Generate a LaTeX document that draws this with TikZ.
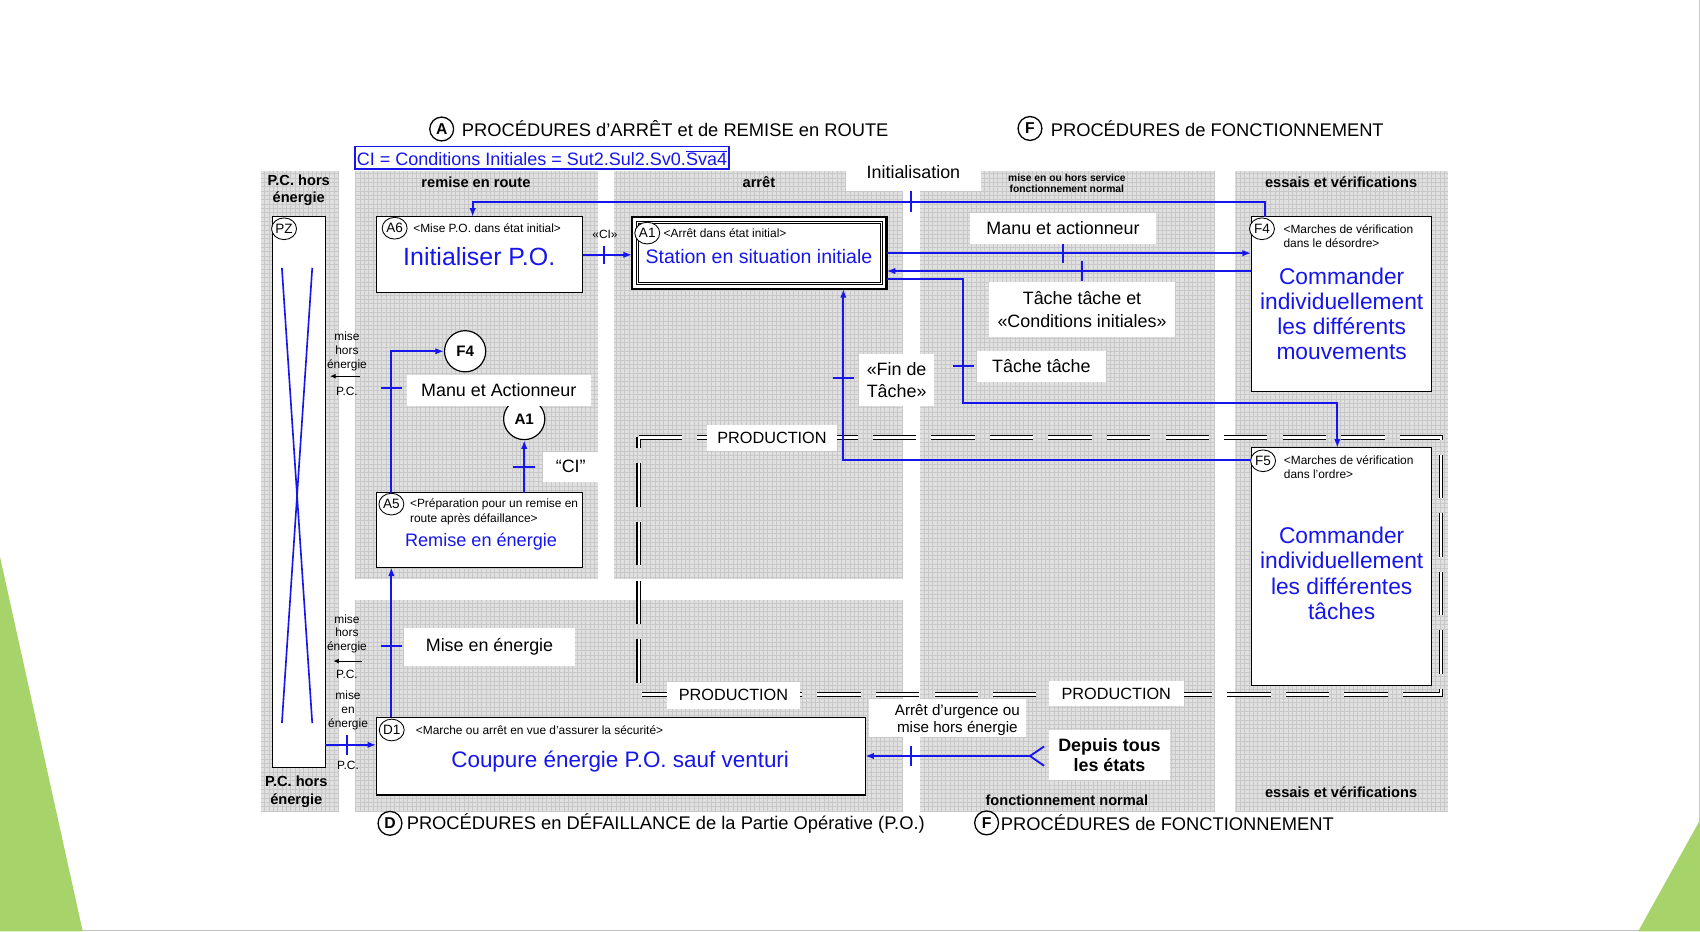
\documentclass[tikz,border=0pt]{standalone}
\usepackage{fontspec}
\setmainfont{Liberation Sans}
\usetikzlibrary{arrows.meta,shapes.geometric}
\definecolor{myblue}{RGB}{22,22,235}
\definecolor{gridbg}{RGB}{224,224,224}
\definecolor{gridln}{RGB}{200,200,200}
\definecolor{slidegreen}{RGB}{166,212,106}
\newcommand\fsz[2]{\fontsize{#1}{#2}\selectfont}
\newcommand\gregion[4]{\fill[gridbg] (#1,#2) rectangle (#3,#4); \draw[gridln, line width=0.4pt, step=4pt] (#1,#4) grid (#3,#2);}
\begin{document}
\begin{tikzpicture}[x=1pt,y=-1pt,
  box/.style={draw=black, line width=1.2pt, fill=white, inner sep=0pt, outer sep=0pt},
  sm/.style={font=\fsz{11}{13.4}, inner sep=0pt},
  smc/.style={ellipse, draw=black, line width=0.8pt, fill=white, inner sep=0pt, minimum width=23pt, minimum height=20pt, font=\fsz{12.5}{14}},
  bcirc/.style={circle, draw=black, line width=1.1pt, fill=white, inner sep=0pt, minimum size=38pt, font=\bfseries\fsz{14}{16}},
  tcirc/.style={circle, draw=black, line width=1.2pt, inner sep=0pt, minimum size=22pt, font=\bfseries\fsz{14.5}{16}},
  ttl/.style={font=\fsz{16.9}{20}, inner sep=0pt, anchor=west},
  hdr/.style={font=\bfseries\fsz{13.5}{16}, align=center, inner sep=0pt},
  hdrs/.style={font=\bfseries\fsz{9.5}{10.5}, align=center, inner sep=0pt},
  lbl/.style={fill=white, inner sep=0pt, font=\fsz{16.5}{20}, align=center},
  prod/.style={font=\fsz{15}{18}},
  bt/.style={text=myblue, align=center, inner sep=0pt},
  conn/.style={draw=myblue, line width=1.7pt},
  arr/.style={conn, -{Latex[length=8pt,width=6pt]}},
  tk/.style={draw=myblue, line width=1.7pt},
  karr/.style={draw=black, line width=0.9pt, -{Latex[length=5pt,width=4.5pt]}},
  proddash/.style={draw=black, line width=1.1pt, double=white, double distance=2pt, dash pattern=on 40pt off 14pt}
]
\useasboundingbox (0,0) rectangle (1568,859);
\fill[white] (0,0) rectangle (1568,859);
% slide decoration
\draw[gray!50, line width=1.4pt] (0,858.3) -- (1568,858.3);
\draw[gray!40, line width=1pt] (1567.5,0) -- (1567.5,859);
\fill[slidegreen] (0,513.5) -- (76.3,859) -- (0,859) -- cycle;
\fill[slidegreen] (1568,756.4) -- (1568,859) -- (1511,859) -- cycle;

% gray regions
\gregion{240.5}{157.4}{312.7}{749}
\gregion{327.5}{157.4}{551.7}{534}
\gregion{566}{157.4}{833}{534}
\gregion{327.5}{553.4}{833}{749}
\gregion{849}{157.4}{1121}{749}
\gregion{1139}{157.4}{1335.6}{749}

% titles
\node[tcirc] (cA) at (407.4,119) {A};
\node[ttl] (tA) at (425.8,119) {PROCÉDURES d’ARRÊT et de REMISE en ROUTE};
\node[tcirc] (cF) at (950,118.5) {F};
\node[ttl] (tF) at (969,118.5) {PROCÉDURES de FONCTIONNEMENT};
\node[tcirc] (cD) at (359.7,759.4) {D};
\node[ttl] (tD) at (375,759.4) {PROCÉDURES en DÉFAILLANCE de la Partie Opérative (P.O.)};
\node[tcirc] (cF2) at (910,759) {F};
\node[ttl] (tF2) at (923,759) {PROCÉDURES de FONCTIONNEMENT};
\node[draw=myblue, line width=1.1pt, text=myblue, font=\fsz{16.6}{20}, inner xsep=1.8pt, inner ysep=0pt, minimum height=20.6pt, anchor=west] (ci) at (326.8,145.6) {CI = Conditions Initiales = Sut2.Sul2.Sv0.$\overline{\mbox{Sva4}}$};

% headers
\node[hdr] (hPC) at (275.5,175.6) {P.C. hors\\énergie};
\node[hdr] (hPC2) at (273.3,730.2) {P.C. hors\\énergie};
\node[hdr] (hRR) at (439,168) {remise en route};
\node[hdr] (hAR) at (700,168) {arrêt};
\node[hdrs] (hMS) at (984,169) {mise en ou hors service\\fonctionnement normal};
\node[hdr] (hEV) at (1237,167.6) {essais et vérifications};
\node[hdr] (hEV2) at (1237,731) {essais et vérifications};
\node[hdr] (hFN) at (984,738) {fonctionnement normal};

% production zone
\draw[proddash] (589,403.5) -- (1329,403.5) -- (1329,640.5) -- (589,640.5) -- cycle;

% boxes
\node[box, minimum width=48.5pt, minimum height=507.7pt] (PZ) at (275.75,453.85) {};
\node[box, minimum width=190.5pt, minimum height=69.5pt] (A6) at (442.25,234.75) {};
\node[box, line width=2.3pt, minimum width=234.8pt, minimum height=66.6pt] (A1) at (700.4,233.3) {};
\draw[line width=0.6pt] ([shift={(4.2,4.2)}]A1.north west) rectangle ([shift={(-4.2,-4.2)}]A1.south east);
\draw[line width=0.6pt] ([shift={(6,6)}]A1.north west) rectangle ([shift={(-6,-6)}]A1.south east);
\node[box, minimum width=166.5pt, minimum height=161.3pt] (F4) at (1237.25,280.65) {};
\node[box, minimum width=166.5pt, minimum height=219pt] (F5) at (1237.25,522.5) {};
\node[box, minimum width=190.5pt, minimum height=68.9pt] (A5) at (442.25,488.85) {};
\node[box, minimum width=451pt, minimum height=71.7pt] (D1) at (572.5,697.45) {};

% PZ cross
\draw[conn, line width=1.5pt] (260,247) -- (288,667);
\draw[conn, line width=1.5pt] (288,247) -- (260,667);

% step circles
\node[smc] (cPZ) at (262,211) {PZ};
\node[smc] (cA6) at (364,210.5) {A6};
\node[smc] (cA1b) at (597,215) {A1};
\node[smc] (cF4b) at (1164,211) {F4};
\node[smc] (cF5b) at (1165,425) {F5};
\node[smc] (cA5) at (361,465) {A5};
\node[smc] (cD1) at (361.3,673.3) {D1};

% small texts in boxes
\node[sm, anchor=west] (sA6) at (381,210.5) {<Mise P.O. dans état initial>};
\node[sm, anchor=west] (sA1) at (612,215) {<Arrêt dans état initial>};
\node[sm, anchor=west, align=left] (sF4) at (1183.7,217.7) {<Marches de vérification\\dans le désordre>};
\node[sm, anchor=west, align=left] (sF5) at (1184,431) {<Marches de vérification\\dans l’ordre>};
\node[sm, anchor=west, align=left] (sA5) at (378,471.9) {<Préparation pour un remise en\\route après défaillance>};
\node[sm, anchor=west] (sD1) at (383.4,673.3) {<Marche ou arrêt en vue d’assurer la sécurité>};

% blue texts
\node[bt, font=\fsz{23}{27}] (tA6) at (442,237) {Initialiser P.O.};
\node[bt, font=\fsz{18}{21}] (tA1) at (700,237) {Station en situation initiale};
\node[bt, font=\fsz{21}{23.2}] (tF4) at (1237.5,289.7) {Commander\\individuellement\\les différents\\mouvements};
\node[bt, font=\fsz{21}{23.5}] (tF5) at (1237.5,528.7) {Commander\\individuellement\\les différentes\\tâches};
\node[bt, font=\fsz{16.7}{20}] (tA5) at (443.7,500) {Remise en énergie};
\node[bt, font=\fsz{20.7}{24}] (tD1) at (572,702) {Coupure énergie P.O. sauf venturi};

% standalone circles
\node[bcirc] (cF4) at (429,324) {F4};
\node[bcirc] (cA1) at (483.5,386.5) {A1};

% connectors
\coordinate (iniR) at (1167,186);
\coordinate (iniL) at (436,186);
\coordinate (tIni) at (840,186);
\draw[arr] (F4.north -| iniR) -- (iniR) -- (iniL) -- (A6.north -| iniL);
\draw[tk] ([yshift=9.5pt]tIni) -- ([yshift=-9.5pt]tIni);

\coordinate (tCI) at (557,235);
\draw[arr] (tCI -| A6.east) -- (tCI -| A1.west);
\draw[tk] ([yshift=8.5pt]tCI) -- ([yshift=-8.5pt]tCI);

\coordinate (tMA) at (980.6,233.5);
\draw[arr] (tMA -| A1.east) -- (tMA -| F4.west);
\draw[tk] ([yshift=9pt]tMA) -- ([yshift=-9pt]tMA);

\coordinate (tTC) at (997.7,250);
\draw[arr] (tTC -| F4.west) -- (tTC -| A1.east);
\draw[tk] ([yshift=9pt]tTC) -- ([yshift=-9pt]tTC);

\coordinate (bA) at (888.6,257.6);
\coordinate (bB) at (888.6,371.4);
\coordinate (bC) at (1233.5,371.4);
\coordinate (tTT) at (888.6,337.6);
\draw[arr] (bA -| A1.east) -- (bA) -- (bB) -- (bC) -- (bC |- F5.north);
\draw[tk] ([xshift=-10pt]tTT) -- ([xshift=10pt]tTT);

\coordinate (cB) at (777.9,424.3);
\coordinate (tFT) at (777.9,349);
\draw[arr] (cB -| F5.west) -- (cB) -- (cB |- A1.south);
\draw[tk] ([xshift=-10pt]tFT) -- ([xshift=10pt]tFT);

\coordinate (tME) at (361,596);
\draw[arr] (tME |- D1.north) -- (tME |- A5.south);
\draw[tk] ([xshift=-10pt]tME) -- ([xshift=10pt]tME);

\coordinate (eB) at (361,324);
\coordinate (tMA2) at (361,358);
\draw[arr] (eB |- A5.north) -- (eB) -- (cF4.west);
\draw[tk] ([xshift=-10pt]tMA2) -- ([xshift=10pt]tMA2);

\coordinate (tCI2) at (483.5,430.5);
\draw[arr] (cA1.south |- A5.north) -- (cA1.south);
\draw[tk] ([xshift=-10pt]tCI2) -- ([xshift=10pt]tCI2);

\coordinate (tPZ) at (320.4,687);
\draw[arr] (tPZ -| PZ.east) -- (tPZ -| D1.west);
\draw[tk] ([yshift=9pt]tPZ) -- ([yshift=-9pt]tPZ);

\coordinate (gV) at (950,697.3);
\coordinate (gU) at (963,688.5);
\coordinate (gD) at (963,706.3);
\coordinate (tDE) at (840,697.3);
\draw[arr] (gV) -- (gV -| D1.east);
\draw[conn] (gU) -- (gV) -- (gD);
\draw[tk] ([yshift=9pt]tDE) -- ([yshift=-9pt]tDE);

% left small labels
\node[sm, align=center, font=\fsz{11}{12.8}] (lH1) at (320,324) {mise\\hors\\énergie};
\coordinate (k1a) at (332,347);
\coordinate (k1b) at (304.5,347);
\draw[karr] (k1a) -- (k1b);
\node[sm] (lPC1) at (320,361) {P.C.};
\node[sm, align=center, font=\fsz{11}{12.2}] (lH2) at (320,584.5) {mise\\hors\\énergie};
\coordinate (k2a) at (333.6,609.7);
\coordinate (k2b) at (307.5,609.7);
\draw[karr] (k2a) -- (k2b);
\node[sm] (lPC2) at (320,621.7) {P.C.};
\node[sm, align=center, font=\fsz{11}{12.6}] (lE3) at (321,655.2) {mise\\en\\énergie};
\node[sm] (lPC3) at (321,706.2) {P.C.};

% labels
\node[lbl, minimum width=125pt, minimum height=35pt] (lInit) at (842.5,158.5) {Initialisation};
\node[sm] (lCI) at (558,216) {«CI»};
\node[lbl, minimum width=171pt, minimum height=29pt] (lMA) at (980.5,210.5) {Manu et actionneur};
\node[lbl, minimum width=172pt, minimum height=51pt, font=\fsz{16.5}{22}] (lTC) at (998,285.5) {Tâche tâche et\\«Conditions initiales»};
\node[lbl, minimum width=119pt, minimum height=28pt] (lTT) at (960.5,338) {Tâche tâche};
\node[lbl, minimum width=69.5pt, minimum height=48pt, font=\fsz{16.5}{21}] (lFT) at (827,350.5) {«Fin de\\Tâche»};
\node[lbl, prod, minimum width=120pt, minimum height=24pt] (lP1) at (712,404) {PRODUCTION};
\node[lbl, prod, minimum width=123pt, minimum height=25pt] (lP2) at (676.5,641.3) {PRODUCTION};
\node[lbl, prod, minimum width=124pt, minimum height=23pt] (lP3) at (1029.6,640) {PRODUCTION};
\node[lbl, minimum width=170pt, minimum height=28.5pt] (lMA2) at (460,360) {Manu et Actionneur};
\node[lbl, minimum width=50.7pt, minimum height=27.7pt] (lCI2) at (526.4,430.5) {“CI”};
\node[lbl, minimum width=158pt, minimum height=35pt] (lME) at (451.5,597) {Mise en énergie};
\node[fill=white, minimum width=144.4pt, minimum height=34.5pt, inner sep=0pt] (lAUb) at (873.8,662.2) {};
\node[align=center, inner sep=0pt, font=\fsz{14}{15.5}] (lAU) at (883,664.5) {Arrêt d’urgence ou\\mise hors énergie};
\node[lbl, font=\bfseries\fsz{16.5}{18.3}, minimum width=111.4pt, minimum height=46.5pt] (lDE) at (1023.3,696.3) {Depuis tous\\les états};
\end{tikzpicture}
\end{document}
